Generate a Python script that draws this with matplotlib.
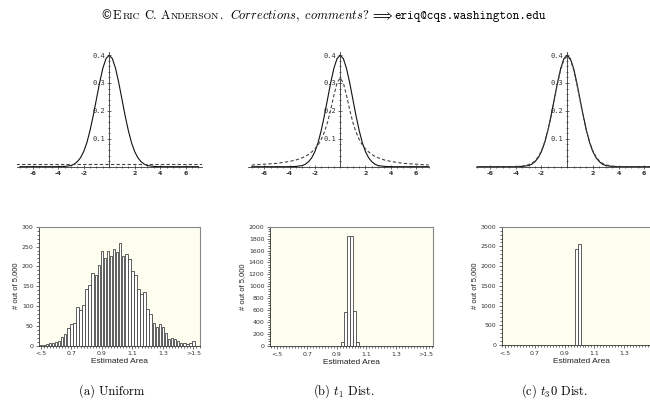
import numpy as np
import matplotlib
matplotlib.use("Agg")
import matplotlib.pyplot as plt
from matplotlib.ticker import MultipleLocator, FixedLocator

plt.rcParams['mathtext.fontset'] = 'cm'

W, H = 650, 401

# density curves (top row)
density_x = [-7, -6, -5, -4, -3.5, -3, -2.75, -2.5, -2.25, -2, -1.75, -1.5, -1.25, -1, -0.75, -0.5, -0.25,
             0, 0.25, 0.5, 0.75, 1, 1.25, 1.5, 1.75, 2, 2.25, 2.5, 2.75, 3, 3.5, 4, 5, 6, 7]
normal_y = [0, 0, 0, 0.0001, 0.001, 0.004, 0.009, 0.018, 0.032, 0.054, 0.086, 0.130, 0.183, 0.242, 0.301, 0.352, 0.387,
            0.399, 0.387, 0.352, 0.301, 0.242, 0.183, 0.130, 0.086, 0.054, 0.032, 0.018, 0.009, 0.004, 0.001, 0.0001, 0, 0, 0]
cauchy_y = [0.006, 0.009, 0.012, 0.019, 0.024, 0.032, 0.037, 0.044, 0.053, 0.064, 0.078, 0.098, 0.124, 0.159, 0.204, 0.255, 0.300,
            0.318, 0.300, 0.255, 0.204, 0.159, 0.124, 0.098, 0.078, 0.064, 0.053, 0.044, 0.037, 0.032, 0.024, 0.019, 0.012, 0.009, 0.006]
t30_y = [0, 0, 0, 0.0005, 0.002, 0.007, 0.012, 0.021, 0.035, 0.057, 0.088, 0.129, 0.180, 0.238, 0.297, 0.348, 0.383,
         0.396, 0.383, 0.348, 0.297, 0.238, 0.180, 0.129, 0.088, 0.057, 0.035, 0.021, 0.012, 0.007, 0.002, 0.0005, 0, 0, 0]
uniform_x = [-7.3, 7.3]
uniform_y = [0.01, 0.01]

# histograms (bottom row)
uniform_bins = np.round(np.arange(0.50, 1.501, 0.02), 2)
uniform_counts = [3, 3, 4, 8, 6, 10, 11, 21, 30, 44, 54, 57, 97, 89, 102, 142, 153, 183, 178, 203,
                  240, 222, 238, 227, 244, 236, 260, 226, 231, 218, 188, 177, 144, 131, 135, 92, 80, 57, 47, 55,
                  48, 31, 17, 20, 17, 11, 8, 7, 4, 6, 13]
t1_bins = [0.94, 0.96, 0.98, 1.00, 1.02, 1.04]
t1_counts = [70, 570, 1845, 1845, 592, 62]
t30_bins = [0.98, 1.00]
t30_counts = [2435, 2550]

hist_ticks = [0.5, 0.7, 0.9, 1.1, 1.3, 1.5]
hist_ticklabels = ['<.5', '0.7', '0.9', '1.1', '1.3', '>1.5']
captions = ['(a) Uniform', r'(b) $t_1$ Dist.', r'(c) $t_3$0 Dist.']

fig = plt.figure(figsize=(6.5, 4.01), dpi=100)


def px_axes(left, right, top, bottom):
    return fig.add_axes([left / W, 1 - bottom / H, (right - left) / W, (bottom - top) / H])


def density_axes(left, right, xlim):
    # y=0 sits at pixel 166.7, 0.4 at pixel 55
    ppu = (166.7 - 55) / 0.4
    ax = px_axes(left, right, 166.7 - 0.41 * ppu, 166.7)
    ax.set_xlim(*xlim)
    ax.set_ylim(0, 0.41)
    ax.patch.set_alpha(0)
    for s in ['top', 'right']:
        ax.spines[s].set_visible(False)
    ax.spines['left'].set_position(('data', 0))
    for s in ['left', 'bottom']:
        ax.spines[s].set_linewidth(0.6)
        ax.spines[s].set_color('#333333')
    ax.xaxis.set_major_locator(FixedLocator([-6, -4, -2, 2, 4, 6]))
    ax.xaxis.set_minor_locator(MultipleLocator(0.5))
    ax.yaxis.set_major_locator(FixedLocator([0.1, 0.2, 0.3, 0.4]))
    ax.yaxis.set_minor_locator(MultipleLocator(0.02))
    ax.tick_params(which='both', direction='inout', color='#333333', width=0.5)
    ax.tick_params(which='major', length=3, labelsize=4.5, pad=1.5, labelcolor='#333333')
    ax.tick_params(which='minor', length=1.5)
    ax.set_xticklabels(['-6', '-4', '-2', '2', '4', '6'], fontweight='bold')
    ax.set_yticklabels(['0.1', '0.2', '0.3', '0.4'], family='DejaVu Sans Mono', fontsize=5)
    return ax


def hist_axes(left, right, bottom, xlim, ymax, ystep, labels=hist_ticklabels):
    ax = px_axes(left, right, 226.7, bottom)
    ax.set_facecolor('#fdfdf0')
    ax.set_xlim(*xlim)
    ax.set_ylim(0, ymax)
    for s in ['top', 'right']:
        ax.spines[s].set_color('#888888')
        ax.spines[s].set_linewidth(0.8)
    for s in ['left', 'bottom']:
        ax.spines[s].set_color('#333333')
        ax.spines[s].set_linewidth(0.6)
    ax.set_xticks(hist_ticks[:len(labels)])
    ax.set_xticklabels(labels)
    ax.xaxis.set_minor_locator(MultipleLocator(0.02))
    ax.yaxis.set_major_locator(MultipleLocator(ystep))
    ax.yaxis.set_minor_locator(MultipleLocator(ystep / 5))
    ax.tick_params(which='both', direction='out', color='#333333', width=0.5)
    ax.tick_params(which='major', length=2.5, labelsize=4.5, pad=1.5, labelcolor='#333333')
    ax.tick_params(which='minor', length=1.3)
    ax.set_xlabel('Estimated Area', fontsize=6, family='Liberation Sans', labelpad=1.5, color='#222222')
    ax.set_ylabel('# out of 5,000', fontsize=5.5, family='Liberation Sans', labelpad=2, color='#222222')
    return ax


# top row
ax = density_axes(17, 202, (-7.23, 7.28))
ax.plot(density_x, normal_y, color='#111111', lw=0.8)
ax.plot(uniform_x, uniform_y, color='#444444', lw=0.8, dashes=(3, 2))

ax = density_axes(248.3, 429.3, (-7.27, 7.05))
ax.plot(density_x, normal_y, color='#111111', lw=0.8)
ax.plot(density_x, cauchy_y, color='#444444', lw=0.8, dashes=(3, 2))

ax = density_axes(476, 661, (-7.09, 7.3))
ax.plot(density_x, normal_y, color='#111111', lw=0.8)
ax.plot(density_x, t30_y, color='#444444', lw=0.8, dashes=(3, 2))

# bottom row
bar_kw = dict(width=0.016, facecolor='white', edgecolor='#444444', linewidth=0.6)
ax = hist_axes(39.3, 200, 345.7, (0.49, 1.543), 300, 50)
ax.bar(uniform_bins, uniform_counts, **bar_kw)
ax = hist_axes(270, 432.7, 346, (0.45, 1.547), 2000, 200)
ax.bar(t1_bins, t1_counts, **bar_kw)
# right part of the last panel runs off the page, as in the original
ax = hist_axes(501.7, 660.5, 345, (0.476, 1.545), 3000, 500, labels=hist_ticklabels[:5])
ax.bar(t30_bins, t30_counts, **bar_kw)

# captions
for cx, cap in zip([112, 344, 554], captions):
    fig.text(cx / W, 1 - 395 / H, cap, ha='center', va='baseline', fontsize=9,
             family=['cmr10', 'DejaVu Serif'])

# header line, pieced together
r = fig.canvas.get_renderer()
big, small = 9, 7
pieces = [
    ('\u00a9', dict(family='DejaVu Serif', fontsize=8.5), 0),
    ('E', dict(family='cmr10', fontsize=big), 1),
    ('RIC', dict(family='cmr10', fontsize=small), 1),
    ('C.', dict(family='cmr10', fontsize=big), 4),
    ('A', dict(family='cmr10', fontsize=big), 4),
    ('NDERSON', dict(family='cmr10', fontsize=small), 1),
    ('.', dict(family='cmr10', fontsize=big), 1),
    (r'$\mathit{Corrections,\ comments?}$', dict(fontsize=big), 6),
    (r'$\Longrightarrow$', dict(fontsize=big), 1),
    ('eriq@cqs.washington.edu', dict(family='cmtt10', fontsize=big), 1),
]
x = 100
for s, kw, g in pieces:
    x += g
    t = fig.text(x / W, 1 - 19 / H, s, ha='left', va='baseline', **kw)
    x += t.get_window_extent(renderer=r).width

fig.savefig('out.png', dpi=100)
